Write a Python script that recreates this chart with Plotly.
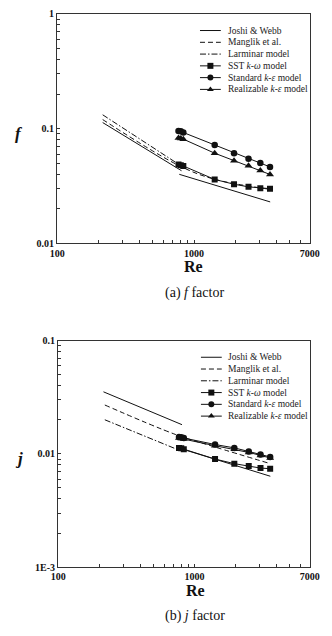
import numpy as np
import plotly.graph_objects as go

# ---------------- data ----------------
re_cfd = [770, 800, 835, 1415, 1960, 2500, 3050, 3590]

# (a) friction factor f
f_sst = [0.0488, 0.0481, 0.0473, 0.0361, 0.0328, 0.0311, 0.0303, 0.0300]
f_std = [0.0955, 0.0948, 0.0925, 0.0720, 0.0611, 0.0547, 0.0502, 0.0464]
f_real = [0.0830, 0.0822, 0.0810, 0.0611, 0.0526, 0.0476, 0.0432, 0.0399]

re_jw_lam = [215, 810]
f_jw_lam = [0.113, 0.043]
re_jw_turb = [780, 3600]
f_jw_turb = [0.0400, 0.0230]

re_mang = [215, 780, 1415, 3600]
f_mang = [0.120, 0.0475, 0.0362, 0.0296]

re_lam = [215, 750]
f_lam = [0.132, 0.0500]

# (b) Colburn factor j
j_sst = [0.0113, 0.0112, 0.0110, 0.0090, 0.0082, 0.0078, 0.0075, 0.0074]
j_std = [0.0141, 0.0140, 0.0138, 0.0121, 0.0113, 0.0105, 0.0099, 0.0094]
j_real = [0.0138, 0.0137, 0.0135, 0.0118, 0.0110, 0.0103, 0.0097, 0.0092]

j_jw_lam = [0.0353, 0.0181]
j_jw_turb = [0.0112, 0.00635]

re_mang_j = [220, 730, 1415, 3600]
j_mang = [0.0270, 0.0148, 0.0115, 0.0082]

re_lam_j = [220, 740]
j_lam = [0.0200, 0.0110]

legend_labels = ["Joshi &amp; Webb", "Manglik et al.", "Larminar model",
                 "SST <i>k-ω</i> model", "Standard <i>k-ε</i> model",
                 "Realizable <i>k-ε</i> model"]

x_ticks = [100, 200, 300, 400, 500, 600, 700, 800, 900, 1000,
           2000, 3000, 4000, 5000, 6000, 7000]
x_ticktext = ["100", "", "", "", "", "", "", "", "", "1000",
              "", "", "", "", "", "7000"]
yf_ticks = [0.01, 0.02, 0.03, 0.04, 0.05, 0.06, 0.07, 0.08, 0.09,
            0.1, 0.2, 0.3, 0.4, 0.5, 0.6, 0.7, 0.8, 0.9, 1]
yf_ticktext = ["0.01"] + [""] * 8 + ["0.1"] + [""] * 8 + ["1"]
yj_ticks = [0.001, 0.002, 0.003, 0.004, 0.005, 0.006, 0.007, 0.008, 0.009,
            0.01, 0.02, 0.03, 0.04, 0.05, 0.06, 0.07, 0.08, 0.09, 0.1]
yj_ticktext = ["1E-3"] + [""] * 8 + ["0.01"] + [""] * 8 + ["0.1"]

# ---------------- figure ----------------
W, H = 332, 636
FONT = "Liberation Serif"
BLACK = "#111111"
DASH = "5px,3px"
DASHDOT = "6px,2px,1.5px,2px"

fig = go.Figure()

def add_panel(xa, ya, y_sst, y_std, y_real, jw_lam, jw_turb, re_m, y_m, re_l, y_l):
    kw = dict(xaxis=xa, yaxis=ya, showlegend=False, hoverinfo="skip")
    ln = dict(color=BLACK, width=1)
    fig.add_trace(go.Scatter(x=re_jw_lam, y=jw_lam, mode="lines", line=ln, **kw))
    fig.add_trace(go.Scatter(x=re_jw_turb, y=jw_turb, mode="lines", line=ln, **kw))
    fig.add_trace(go.Scatter(x=re_m, y=y_m, mode="lines", line=dict(ln, dash=DASH), line_shape="spline", **kw))
    fig.add_trace(go.Scatter(x=re_l, y=y_l, mode="lines", line=dict(ln, dash=DASHDOT), **kw))
    fig.add_trace(go.Scatter(x=re_cfd, y=y_sst, mode="lines+markers", line=ln,
                             marker=dict(symbol="square", size=6, color=BLACK), **kw))
    fig.add_trace(go.Scatter(x=re_cfd, y=y_std, mode="lines+markers", line=ln,
                             marker=dict(symbol="circle", size=6.5, color=BLACK), **kw))
    fig.add_trace(go.Scatter(x=re_cfd, y=y_real, mode="lines+markers", line=ln,
                             marker=dict(symbol="triangle-up", size=7, color=BLACK), **kw))

add_panel("x", "y", f_sst, f_std, f_real, f_jw_lam, f_jw_turb, re_mang, f_mang, re_lam, f_lam)
add_panel("x2", "y2", j_sst, j_std, j_real, j_jw_lam, j_jw_turb, re_mang_j, j_mang, re_lam_j, j_lam)

# ---------------- manual legends (pixel overlay axes) ----------------
annotations = []
def add_legend(x0, x1, ys):
    kw = dict(xaxis="x3", yaxis="y3", showlegend=False, hoverinfo="skip")
    ln = dict(color=BLACK, width=1)
    styles = [(None, None), (DASH, None), (DASHDOT, None),
              (None, "square"), (None, "circle"), (None, "triangle-up")]
    for (dash, sym), yy, lab in zip(styles, ys, legend_labels):
        fig.add_trace(go.Scatter(x=[x0, x1], y=[yy, yy], mode="lines",
                                 line=dict(ln, dash=dash) if dash else ln, **kw))
        if sym:
            fig.add_trace(go.Scatter(x=[(x0 + x1) / 2], y=[yy], mode="markers",
                                     marker=dict(symbol=sym, size=6, color=BLACK), **kw))
        annotations.append(dict(x=x1 + 5, y=yy, xref="x3", yref="y3", text=lab,
                                showarrow=False, xanchor="left", yanchor="middle",
                                font=dict(family=FONT, size=9.5, color="#222")))

add_legend(203, 225, [25, 37, 49, 61, 73, 85])
add_legend(204, 226, [358, 370, 382, 394, 406, 418])

def txt(x, y, s, size, bold=False):
    annotations.append(dict(x=x, y=y, xref="x3", yref="y3", text=s, showarrow=False,
                            xanchor="center", yanchor="middle",
                            font=dict(family=FONT, size=size, color=BLACK,
                                      weight="bold" if bold else "normal")))

txt(196, 266, "Re", 16, True)
txt(197, 293, "(a) <i>f</i> factor", 14)
txt(12, 130, "<i>f</i>", 17, True)
txt(198, 596, "Re", 16, True)
txt(198, 622, "(b) <i>j</i> factor", 14)
txt(12, 461, "<i>j</i>", 17, True)

def px_dom_x(a, b):
    return [a / W, b / W]

def px_dom_y(top, bot):
    return [(H - bot) / H, (H - top) / H]

axis_common = dict(showline=True, mirror=True, linecolor="#333", linewidth=1.2,
                   showgrid=False, zeroline=False, ticks="inside", ticklen=3,
                   tickcolor="#333", tickwidth=1,
                   tickfont=dict(family=FONT, size=10, color=BLACK, weight="bold"))

fig.update_layout(
    width=W, height=H, margin=dict(l=0, r=0, t=0, b=0),
    paper_bgcolor="white", plot_bgcolor="rgba(0,0,0,0)",
    xaxis=dict(axis_common, type="log", range=[2, np.log10(7000)], domain=px_dom_x(52, 319),
               anchor="y", tickmode="array", tickvals=x_ticks, ticktext=x_ticktext),
    yaxis=dict(axis_common, type="log", range=[-2, 0], domain=px_dom_y(8, 242),
               anchor="x", tickmode="array", tickvals=yf_ticks, ticktext=yf_ticktext),
    xaxis2=dict(axis_common, type="log", range=[2, np.log10(7000)], domain=px_dom_x(53, 319),
                anchor="y2", tickmode="array", tickvals=x_ticks, ticktext=x_ticktext),
    yaxis2=dict(axis_common, type="log", range=[-3, -1], domain=px_dom_y(341, 572),
                anchor="x2", tickmode="array", tickvals=yj_ticks, ticktext=yj_ticktext),
    xaxis3=dict(domain=[0, 1], range=[0, W], visible=False, anchor="y3", fixedrange=True),
    yaxis3=dict(domain=[0, 1], range=[H, 0], visible=False, anchor="x3", fixedrange=True),
    annotations=annotations,
    showlegend=False,
)

fig.write_html("out.html")
